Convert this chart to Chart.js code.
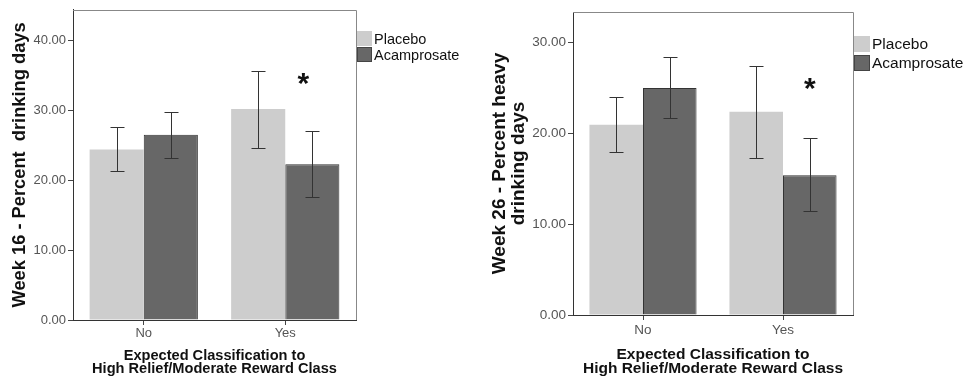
<!DOCTYPE html>
<html>
<head>
<meta charset="utf-8">
<script src="https://cdn.jsdelivr.net/npm/chart.js@4/dist/chart.umd.min.js"></script>
<style>
  body { margin: 0; background: #fff; }
  .panel { position: absolute; top: 0; width: 484px; height: 387px; }
</style>
</head>
<body>
<div class="panel" style="left:0"><canvas id="week16" width="484" height="387"></canvas></div>
<div class="panel" style="left:484px"><canvas id="week26" width="484" height="387"></canvas></div>
<script>
// datos
const categories = ['No', 'Yes'];
const seriesNames = ['Placebo', 'Acamprosate'];

const w16Placebo = [24.4, 30.2];
const w16PlaceboLow = [21.3, 24.6];
const w16PlaceboHigh = [27.6, 35.7];
const w16Acamp = [26.5, 22.3];
const w16AcampLow = [23.2, 17.6];
const w16AcampHigh = [29.8, 27.0];
const w16Star = [null, 34.6];
const w16Ticks = [0, 10, 20, 30, 40];
const w16Max = 44.4;

const w26Placebo = [20.9, 22.35];
const w26PlaceboLow = [17.96, 17.27];
const w26PlaceboHigh = [24.0, 27.4];
const w26Acamp = [24.95, 15.37];
const w26AcampLow = [21.7, 11.4];
const w26AcampHigh = [28.3, 19.4];
const w26Star = [null, 25.5];
const w26Ticks = [0, 10, 20, 30];
const w26Max = 33.3;

const FONT = "'Liberation Sans', Arial, sans-serif";

// barras de error, asterisco, marco y leyenda
const extrasPlugin = {
    id: 'extras',
    afterDatasetsDraw(chart, args, opts) {
        const ctx = chart.ctx;
        const y = chart.scales.y;
        ctx.save();
        ctx.strokeStyle = '#333';
        ctx.lineWidth = 1;
        chart.data.datasets.forEach((ds, i) => {
            const meta = chart.getDatasetMeta(i);
            meta.data.forEach((bar, j) => {
                const x = Math.round(bar.x) + 0.5;
                const yHi = Math.round(y.getPixelForValue(ds.errHigh[j])) + 0.5;
                const yLo = Math.round(y.getPixelForValue(ds.errLow[j])) + 0.5;
                ctx.beginPath();
                ctx.moveTo(x, yHi); ctx.lineTo(x, yLo);
                ctx.moveTo(x - opts.cap / 2, yHi); ctx.lineTo(x + opts.cap / 2, yHi);
                ctx.moveTo(x - opts.cap / 2, yLo); ctx.lineTo(x + opts.cap / 2, yLo);
                ctx.stroke();
            });
        });
        // asterisco sobre la barra de acamprosato
        const acMeta = chart.getDatasetMeta(1);
        ctx.fillStyle = '#111';
        ctx.font = 'bold ' + opts.starSize + 'px ' + FONT;
        ctx.textAlign = 'center';
        ctx.textBaseline = 'middle';
        opts.star.forEach((v, j) => {
            if (v == null) return;
            ctx.fillText('*', acMeta.data[j].x + opts.starDx, y.getPixelForValue(v) + opts.starSize * 0.22);
        });
        ctx.restore();
    },
    afterDraw(chart, args, opts) {
        const ctx = chart.ctx;
        const a = chart.chartArea;
        ctx.save();
        ctx.strokeStyle = '#888';
        ctx.lineWidth = 1;
        ctx.beginPath();
        ctx.moveTo(a.left, Math.round(a.top) + 0.5);
        ctx.lineTo(Math.round(a.right) + 0.5, Math.round(a.top) + 0.5);
        ctx.lineTo(Math.round(a.right) + 0.5, a.bottom);
        ctx.stroke();
        // leyenda
        const lg = opts.legend;
        const bx = Math.round(a.right) + 1;
        chart.data.datasets.forEach((ds, i) => {
            const by = lg.y + i * lg.row;
            ctx.fillStyle = ds.backgroundColor;
            ctx.fillRect(bx, by, lg.box, lg.box);
            if (ds.borderWidth) {
                ctx.strokeStyle = '#444';
                ctx.strokeRect(bx + 0.5, by + 0.5, lg.box - 1, lg.box - 1);
            }
            ctx.fillStyle = '#111';
            ctx.font = lg.font + 'px ' + FONT;
            ctx.textAlign = 'left';
            ctx.textBaseline = 'middle';
            ctx.fillText(ds.label, bx + lg.box + 2, by + lg.box / 2 + 1);
        });
        ctx.restore();
    }
};

function makeChart(id, d) {
    const ctx = document.getElementById(id).getContext('2d');
    return new Chart(ctx, {
        type: 'bar',
        data: {
            labels: categories,
            datasets: [{
                label: seriesNames[0],
                data: d.placebo,
                errLow: d.placeboLow,
                errHigh: d.placeboHigh,
                backgroundColor: '#cdcdcd',
                borderWidth: 0
            }, {
                label: seriesNames[1],
                data: d.acamp,
                errLow: d.acampLow,
                errHigh: d.acampHigh,
                backgroundColor: '#676767',
                borderColor: '#333',
                borderWidth: 1
            }]
        },
        options: {
            responsive: false,
            animation: false,
            events: [],
            layout: { padding: { top: d.top, right: d.right, left: 0, bottom: 0 } },
            datasets: { bar: { categoryPercentage: 0.765, barPercentage: 1 } },
            plugins: {
                legend: { display: false },
                tooltip: { enabled: false },
                extras: {
                    cap: 14,
                    star: d.star,
                    starSize: 30,
                    starDx: d.starDx,
                    legend: d.legend
                }
            },
            scales: {
                x: {
                    afterFit: s => { s.height = d.xHeight; },
                    grid: { offset: false, drawOnChartArea: false, tickLength: 5, color: '#444' },
                    border: { display: true, color: '#333' },
                    ticks: { color: '#555', padding: d.xTickPad, font: { family: FONT, size: d.tickSize } },
                    title: {
                        display: true,
                        text: d.xTitle,
                        color: '#111',
                        padding: { top: 0, bottom: d.xTitlePad },
                        font: { family: FONT, size: d.xTitleSize, weight: 'bold', lineHeight: 0.93 }
                    }
                },
                y: {
                    min: 0,
                    max: d.max,
                    afterFit: s => { s.width = d.yWidth; },
                    afterBuildTicks: s => { s.ticks = d.ticks.map(v => ({ value: v })); },
                    grid: { drawOnChartArea: false, tickLength: 5, color: '#444' },
                    border: { display: true, color: '#333' },
                    ticks: {
                        color: '#555',
                        padding: 2,
                        font: { family: FONT, size: d.tickSize },
                        callback: v => Number(v).toFixed(2)
                    },
                    title: {
                        display: true,
                        text: d.yTitle,
                        color: '#111',
                        padding: { top: d.yTitlePad, bottom: 0 },
                        font: { family: FONT, size: d.yTitleSize, weight: 'bold', lineHeight: 1 }
                    }
                }
            }
        },
        plugins: [extrasPlugin]
    });
}

makeChart('week16', {
    placebo: w16Placebo, placeboLow: w16PlaceboLow, placeboHigh: w16PlaceboHigh,
    acamp: w16Acamp, acampLow: w16AcampLow, acampHigh: w16AcampHigh,
    star: w16Star, starDx: -9, ticks: w16Ticks, max: w16Max,
    top: 9, right: 128, yWidth: 73, xHeight: 67,
    tickSize: 13, xTickPad: 1, xTitleSize: 14.6, xTitlePad: 11,
    yTitleSize: 18.3, yTitlePad: 11,
    xTitle: ['Expected Classification to', 'High Relief/Moderate Reward Class'],
    yTitle: 'Week 16 - Percent  drinking days',
    legend: { y: 31, row: 16, box: 15, font: 14.5 }
});

makeChart('week26', {
    placebo: w26Placebo, placeboLow: w26PlaceboLow, placeboHigh: w26PlaceboHigh,
    acamp: w26Acamp, acampLow: w26AcampLow, acampHigh: w26AcampHigh,
    star: w26Star, starDx: 0, ticks: w26Ticks, max: w26Max,
    top: 12, right: 115, yWidth: 89, xHeight: 72,
    tickSize: 13.5, xTickPad: 2, xTitleSize: 15.5, xTitlePad: 11,
    yTitleSize: 19, yTitlePad: 6,
    xTitle: ['Expected Classification to', 'High Relief/Moderate Reward Class'],
    yTitle: ['Week 26 - Percent heavy', 'drinking days'],
    legend: { y: 36, row: 19, box: 16, font: 15.5 }
});
</script>
</body>
</html>
